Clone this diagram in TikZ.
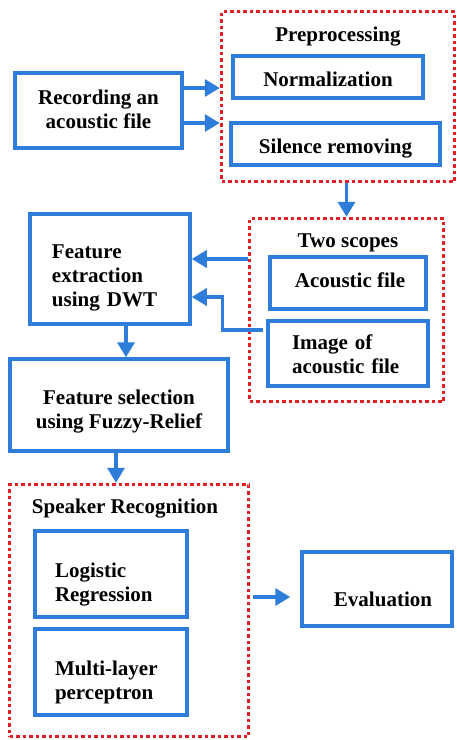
\documentclass[tikz,border=0pt]{standalone}
\usepackage{fontspec}
\setmainfont{Liberation Serif}
\usetikzlibrary{arrows.meta,calc}
\definecolor{boxblue}{RGB}{46,125,219}
\definecolor{dotred}{RGB}{228,32,36}
\tikzset{
    blockbox/.style={draw=boxblue, line width=3.5pt, fill=white, inner sep=0pt},
    blocktext/.style={align=center, inner sep=1pt, font=\fontsize{21}{24}\selectfont\bfseries},
    scopebox/.style={draw=dotred, line width=3.5pt, dash pattern=on 3.5pt off 3pt},
    scopetitle/.style={font=\fontsize{21}{24}\selectfont\bfseries},
    flowarrow/.style={draw=boxblue, line width=3.5pt, -{Triangle[length=15pt,width=17pt]}},
}
\begin{document}
\begin{tikzpicture}[x=1pt, y=-1pt]
    \useasboundingbox (0,0) rectangle (456,740);
    % containers
    \node[scopebox, minimum width=233pt, minimum height=170pt](pre) at (338,96.5){};
    \node[scopebox, minimum width=194pt, minimum height=183pt](two) at (346.5,310){};
    \node[scopebox, minimum width=239pt, minimum height=252pt](spk) at (129,610.5){};
    \node[scopetitle](preT) at (338,37){Preprocessing};
    \node[scopetitle](twoT) at (348,243){Two scopes};
    \node[scopetitle](spkT) at (125,509){Speaker Recognition};
    % blocks
    \node[blockbox, minimum width=167pt, minimum height=75pt](rec) at (98.5,110.5){};
    \node[blockbox, minimum width=190pt, minimum height=42pt](norm) at (328,77){};
    \node[blockbox, minimum width=209pt, minimum height=42pt](sil) at (335.5,144){};
    \node[blockbox, minimum width=156pt, minimum height=52pt](acou) at (348,283){};
    \node[blockbox, minimum width=160pt, minimum height=65pt](img) at (348,353.5){};
    \node[blockbox, minimum width=160pt, minimum height=110pt](fext) at (110,269){};
    \node[blockbox, minimum width=218pt, minimum height=92pt](fsel) at (119,405){};
    \node[blockbox, minimum width=152pt, minimum height=86pt](logr) at (111,574){};
    \node[blockbox, minimum width=152pt, minimum height=86pt](mlp) at (111,672){};
    \node[blockbox, minimum width=150pt, minimum height=74pt](eval) at (377,589){};
    % texts
    \node[blocktext](recT) at ($(rec)+(0,-1)$){Recording an\\acoustic file};
    \node[blocktext](normT) at ($(norm)+(0,2)$){Normalization};
    \node[blocktext](silT) at ($(sil)+(0,5)$){Silence removing};
    \node[blocktext](acouT) at ($(acou)+(2,-3)$){Acoustic file};
    \node[blocktext, text width=112pt, align=left](imgT) at ($(img)+(0,1)$){Image of\\acoustic file};
    \node[blocktext, text width=116pt, align=left](fextT) at ($(fext)+(0,9)$){Feature\\extraction\\using DWT};
    \node[blocktext](fselT) at ($(fsel)+(0,7)$){Feature selection\\using Fuzzy-Relief};
    \node[blocktext, text width=112pt, align=left](logrT) at ($(logr)+(0,11)$){Logistic\\Regression};
    \node[blocktext, text width=112pt, align=left](mlpT) at ($(mlp)+(0,10)$){Multi-layer\\perceptron};
    \node[blocktext](evalT) at ($(eval)+(6,10)$){Evaluation};
    % arrows
    \draw[flowarrow]($(rec.east)+(0,-22.5)$)--($(rec.east -| pre.west)+(0,-22.5)$);
    \draw[flowarrow]($(rec.east)+(0,12.5)$)--($(rec.east -| pre.west)+(0,12.5)$);
    \draw[flowarrow](pre.south -| two.north)--(two.north);
    \draw[flowarrow]($(fext.east -| two.west)+(0,-10)$)--($(fext.east)+(0,-10)$);
    \draw[flowarrow]($(img.west)+(-3,-23.5)$)--++(-41,0)|-($(fext.east)+(0,28)$);
    \draw[flowarrow]([xshift=16pt]fext.south)--([xshift=16pt]fext.south |- fsel.north);
    \draw[flowarrow]([xshift=-3pt]fsel.south)--([xshift=-3pt]fsel.south |- spk.north);
    \draw[flowarrow, shorten >=10pt]($(eval.west -| spk.east)+(3,8)$)--($(eval.west)+(0,8)$);
\end{tikzpicture}
\end{document}
